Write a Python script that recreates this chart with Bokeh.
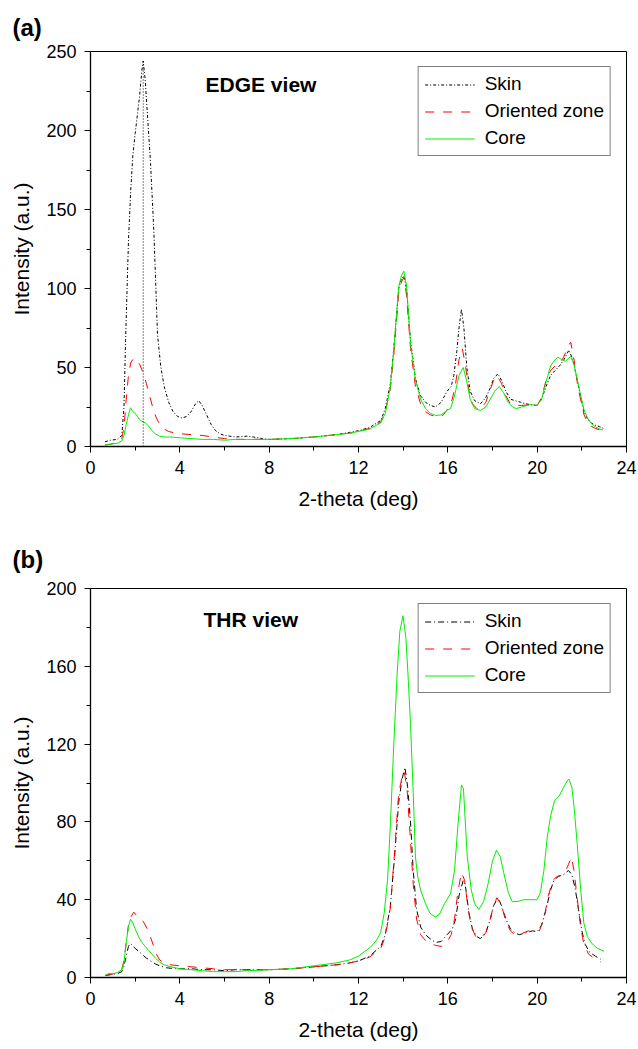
from bokeh.plotting import figure
from bokeh.models import FixedTicker, Label, Range1d
from bokeh.layouts import column
from bokeh.embed import file_html
from bokeh.resources import INLINE

FONT = "Liberation Sans"

# ---------------- data: panel (a) EDGE view ----------------
A_SKIN_X = [0.65, 0.9, 1.2, 1.4, 1.5, 1.57, 1.7, 1.8, 1.9, 2.0, 2.1, 2.2, 2.3, 2.36, 2.45, 2.55, 2.69, 2.84,
            3.0, 3.15, 3.3, 3.5, 3.7, 3.9, 4.1, 4.3, 4.5, 4.7, 4.85, 5.0, 5.2, 5.4, 5.6, 5.8, 6.0, 6.5, 7.0,
            7.3, 7.7, 8.0, 9.0, 10.0, 11.0, 11.64, 12.0, 12.5, 13.0, 13.2, 13.43, 13.58, 13.8, 13.92, 14.03,
            14.15, 14.33, 14.55, 14.78, 15.0, 15.22, 15.45, 15.7, 15.97, 16.15, 16.27, 16.4, 16.5, 16.61,
            16.72, 16.85, 17.0, 17.2, 17.46, 17.7, 17.9, 18.05, 18.24, 18.4, 18.6, 18.8, 19.0, 19.26, 19.5,
            19.7, 20.0, 20.2, 20.4, 20.6, 20.8, 21.0, 21.2, 21.42, 21.6, 21.75, 21.94, 22.1, 22.24, 22.4,
            22.6, 22.8, 23.05]
A_SKIN_Y = [3, 4, 4.5, 7, 25, 67, 130, 162, 185, 198, 210, 222, 238, 244, 232, 210, 179, 135,
            71, 50, 38, 28, 22, 19, 18, 19, 22, 27, 29, 26, 20, 14, 10, 8, 7, 6, 6.5,
            6, 5, 4.5, 5, 6, 7.5, 9, 10, 12, 16.5, 24, 40, 62, 100, 106, 108,
            100, 67, 43, 32, 28, 26, 25, 28, 35, 38, 45, 60, 75, 87,
            75, 50, 35, 29, 27, 31, 37, 43, 46, 42, 35, 30, 29, 28, 27,
            26.5, 26, 30, 38, 45, 48, 51, 55, 61, 55, 45, 32, 22, 18, 15,
            13.5, 12.5, 11]

A_OZ_X = [0.65, 0.9, 1.2, 1.4, 1.5, 1.6, 1.7, 1.8, 1.94, 2.05, 2.2, 2.35, 2.5, 2.65, 2.8, 2.95, 3.1, 3.3,
          3.5, 3.8, 4.1, 4.5, 5.0, 5.5, 6.0, 6.5, 7.0, 8.0, 9.0, 10.0, 11.0, 11.64, 12.0, 12.5, 13.0,
          13.2, 13.43, 13.58, 13.8, 13.92, 14.03, 14.15, 14.33, 14.55, 14.78, 15.0, 15.22, 15.45, 15.6,
          15.8, 16.0, 16.2, 16.35, 16.5, 16.65, 16.8, 16.95, 17.1, 17.3, 17.46, 17.7, 17.9, 18.05, 18.2,
          18.4, 18.6, 18.8, 19.0, 19.3, 19.7, 20.0, 20.2, 20.4, 20.6, 20.8, 21.0, 21.2, 21.4, 21.5, 21.65,
          21.8, 21.94, 22.1, 22.24, 22.4, 22.6, 22.8, 23.0]
A_OZ_Y = [1, 1.5, 2.5, 5, 12, 30, 45, 53, 56, 55, 52, 47, 40, 32, 24, 18, 14, 11,
          9.5, 8.5, 8, 7.5, 7, 6, 5, 4.5, 4.5, 4.5, 5, 6, 7.5, 8.5, 9.5, 11.5, 15.5,
          22, 37, 58, 97, 104, 107, 96, 62, 38, 27, 22, 20, 19, 18.5,
          20, 24, 30, 40, 55, 62, 50, 35, 27, 24, 23.5, 28, 36, 42, 45,
          40, 32, 27, 26, 26, 26.5, 26, 31, 42, 48, 51, 52, 57, 64, 66, 55,
          40, 30, 20, 16, 13, 11.5, 10.5, 10]

A_CORE_X = [0.65, 0.9, 1.2, 1.4, 1.5, 1.6, 1.7, 1.79, 1.9, 2.0, 2.1, 2.2, 2.3, 2.45, 2.6, 2.75, 2.9, 3.1,
            3.3, 3.6, 4.0, 4.5, 5.0, 5.5, 6.0, 6.5, 7.0, 8.0, 9.0, 10.0, 11.0, 11.64, 12.0, 12.5, 13.0,
            13.2, 13.43, 13.58, 13.8, 13.92, 14.03, 14.15, 14.33, 14.55, 14.78, 15.0, 15.22, 15.45, 15.7,
            15.97, 16.12, 16.3, 16.5, 16.69, 16.85, 17.0, 17.2, 17.46, 17.7, 17.9, 18.1, 18.3, 18.5, 18.7,
            18.9, 19.06, 19.3, 19.7, 20.0, 20.2, 20.4, 20.6, 20.75, 20.93, 21.1, 21.27, 21.5, 21.65, 21.8,
            21.94, 22.1, 22.24, 22.4, 22.6, 22.8, 22.95]
A_CORE_Y = [1, 1.5, 2, 3.5, 7, 14, 20, 24.5, 22, 21, 19, 17, 16, 15, 13, 10, 8, 6.5,
            6, 6, 5.5, 5, 4.5, 4.5, 4, 4.5, 4.5, 4.5, 5, 6, 7.5, 8.5, 9.5, 11, 15,
            21, 38, 61, 101, 108, 111, 102, 65, 42, 30, 24, 21, 19.6, 20,
            23, 24, 32, 45, 50, 41, 30, 24, 22.8, 25, 30, 35, 38, 34, 28,
            25, 24, 25, 26.5, 26, 30, 41, 51, 54, 56.5, 55, 54, 57, 52, 42,
            33, 23, 18.5, 15, 12.5, 11, 10.5]

A_DROP_X = 2.36     # dotted drop line at skin peak
A_DROP_TOP = 244

# ---------------- data: panel (b) THR view ----------------
B_SKIN_X = [0.65, 0.9, 1.2, 1.4, 1.5, 1.6, 1.7, 1.79, 1.9, 2.0, 2.15, 2.3, 2.5, 2.7, 2.9, 3.1, 3.4, 3.8,
            4.5, 5.0, 5.5, 6.0, 6.5, 7.0, 8.0, 9.0, 10.0, 11.0, 11.6, 12.0, 12.5, 13.0, 13.2, 13.43, 13.6,
            13.8, 13.95, 14.08, 14.2, 14.33, 14.45, 14.6, 14.78, 15.0, 15.2, 15.45, 15.7, 15.97, 16.2, 16.35,
            16.5, 16.69, 16.8, 16.95, 17.1, 17.3, 17.46, 17.7, 17.9, 18.05, 18.25, 18.4, 18.6, 18.8, 19.0,
            19.2, 19.5, 19.8, 20.0, 20.2, 20.4, 20.6, 20.75, 20.95, 21.2, 21.4, 21.55, 21.7, 21.85, 22.0,
            22.15, 22.35, 22.6, 22.84]
B_SKIN_Y = [1, 1.5, 2, 3, 6, 11, 16, 17.6, 16, 15, 13.5, 12, 10, 8.5, 7, 6, 5, 4.5,
            4.5, 4, 4, 3.5, 4, 4, 4, 4.5, 5.5, 6.5, 7.5, 8.5, 11, 16, 22, 37, 60,
            90, 102, 108, 98, 80, 55, 35, 26, 22, 20, 18, 18.5, 22, 25, 30,
            42, 50, 46, 33, 25, 21, 20, 23, 30, 37, 41, 37, 30, 25, 23,
            22, 23, 24, 23.5, 27, 35, 45, 50, 52, 53, 55, 53, 46, 35, 24,
            17, 13, 11, 9.5]

B_OZ_X = [0.65, 0.9, 1.2, 1.4, 1.5, 1.6, 1.7, 1.8, 1.94, 2.05, 2.2, 2.35, 2.5, 2.65, 2.8, 2.95, 3.1, 3.3,
          3.6, 4.0, 4.5, 5.0, 5.5, 6.0, 6.5, 7.0, 8.0, 9.0, 10.0, 11.0, 11.6, 12.0, 12.5, 13.0, 13.2,
          13.43, 13.6, 13.8, 13.95, 14.05, 14.18, 14.3, 14.45, 14.6, 14.78, 15.0, 15.2, 15.45, 15.7, 15.95,
          16.15, 16.3, 16.45, 16.61, 16.75, 16.9, 17.05, 17.25, 17.46, 17.7, 17.9, 18.05, 18.2, 18.4, 18.6,
          18.8, 19.0, 19.3, 19.6, 19.9, 20.1, 20.3, 20.5, 20.7, 20.9, 21.2, 21.4, 21.53, 21.65, 21.8,
          21.95, 22.09, 22.3, 22.6, 22.85]
B_OZ_Y = [1, 1.5, 2.5, 4, 9, 18, 27, 31, 33.6, 32, 30, 29, 26, 22, 17, 12, 9, 7.5,
          6.5, 6, 5.5, 5, 4.5, 4, 4, 4, 4, 4.5, 5.5, 6.5, 7.5, 8.5, 10.5, 15, 21,
          36, 62, 95, 103, 106, 96, 75, 48, 30, 22, 19, 17.5, 16.5, 16, 18,
          22, 30, 44, 54, 50, 36, 26, 21, 20, 23, 30, 37, 41, 37, 29,
          24, 22, 22.5, 24, 23, 24, 30, 42, 50, 52, 53, 58, 62, 55, 40,
          26, 17, 12, 9.5, 8]

B_CORE_X = [0.65, 0.8, 1.0, 1.2, 1.4, 1.5, 1.6, 1.7, 1.79, 1.9, 2.0, 2.15, 2.3, 2.45, 2.6, 2.75, 2.9, 3.1,
            3.3, 3.6, 4.0, 4.5, 5.0, 5.5, 6.0, 6.5, 7.0, 8.0, 9.0, 10.0, 11.0, 11.6, 12.0, 12.54, 12.8,
            12.99, 13.15, 13.3, 13.43, 13.58, 13.73, 13.85, 13.99, 14.12, 14.22, 14.33, 14.45, 14.55, 14.65,
            14.78, 15.0, 15.2, 15.45, 15.65, 15.85, 16.12, 16.3, 16.45, 16.61, 16.7, 16.87, 17.05, 17.2,
            17.39, 17.6, 17.8, 18.0, 18.18, 18.35, 18.5, 18.7, 18.88, 19.1, 19.4, 19.7, 20.0, 20.15, 20.3,
            20.45, 20.6, 20.78, 20.97, 21.15, 21.34, 21.42, 21.55, 21.65, 21.79, 21.95, 22.09, 22.25, 22.45,
            22.7, 22.99]
B_CORE_Y = [1, 2, 2, 2.5, 4, 8, 18, 26, 30, 28, 25, 21, 18, 16, 14, 12, 10, 8,
            6.5, 5.5, 4.5, 4, 3.5, 3, 3, 3, 3.5, 4, 4.5, 6, 7.5, 9, 11, 15.6, 19,
            23, 33, 50, 79, 120, 156, 178, 186, 175, 155, 130, 95, 62, 52,
            45, 38, 33, 31, 33, 38, 43, 55, 78, 99, 97, 62, 45, 38,
            35, 39, 48, 60, 65.5, 62, 54, 44, 39, 39, 40, 40, 40, 44, 55,
            72, 83, 91, 93, 97, 101, 102, 98, 88, 69, 45, 28, 21, 17.5,
            15, 13.5]

X_TICKS = [0, 4, 8, 12, 16, 20, 24]
X_MINOR = [2, 6, 10, 14, 18, 22]
A_Y_TICKS = [0, 50, 100, 150, 200, 250]
A_Y_MINOR = [25, 75, 125, 175, 225]
B_Y_TICKS = [0, 40, 80, 120, 160, 200]
B_Y_MINOR = [20, 60, 100, 140, 180]

SERIES_NAMES = ["Skin", "Oriented zone", "Core"]
COLORS = ["black", "#ff0000", "#00ee00"]


def make_panel(tag, title_standoff, view, view_pos, ymax, yticks, yminor, series, skin_dash,
               height, top, bottom):
    p = figure(width=638, height=height, output_backend="svg", toolbar_location=None,
               x_range=Range1d(0, 24), y_range=Range1d(0, ymax),
               min_border_left=90, min_border_right=12, min_border_top=top, min_border_bottom=bottom)
    p.title.text = tag
    p.title.text_font = FONT
    p.title.text_font_size = "24px"
    p.title.text_font_style = "bold"
    p.title.align = "left"
    p.title.offset = -78
    p.title.standoff = title_standoff
    p.title.text_color = "black"

    p.xgrid.visible = False
    p.ygrid.visible = False
    p.outline_line_color = "black"
    p.outline_line_width = 1
    p.outline_line_alpha = 1

    p.xaxis.ticker = FixedTicker(ticks=X_TICKS, minor_ticks=X_MINOR)
    p.yaxis.ticker = FixedTicker(ticks=yticks, minor_ticks=yminor)
    for ax in (p.xaxis[0], p.yaxis[0]):
        ax.axis_line_color = "black"
        ax.axis_line_width = 1.3
        ax.major_tick_line_color = "black"
        ax.minor_tick_line_color = "black"
        ax.major_tick_in = 0
        ax.major_tick_out = 6
        ax.minor_tick_in = 0
        ax.minor_tick_out = 4
        ax.major_label_text_font = FONT
        ax.major_label_text_font_size = "18px"
        ax.major_label_text_color = "black"
        ax.axis_label_text_font = FONT
        ax.axis_label_text_font_size = "21px"
        ax.axis_label_text_font_style = "normal"
        ax.axis_label_text_color = "black"
        ax.major_label_standoff = 8
        ax.axis_label_standoff = 10
    p.xaxis.axis_label = "2-theta (deg)"
    p.yaxis.axis_label = "Intensity (a.u.)"

    dashes = [skin_dash, "9 9", "solid"]
    for (xs, ys), name, col, dash in zip(series, SERIES_NAMES, COLORS, dashes):
        p.line(xs, ys, line_color=col, line_width=1, line_dash=dash, legend_label=name)

    lg = p.legend[0]
    lg.location = "top_right"
    lg.margin = 15
    lg.padding = 6
    lg.spacing = 5
    lg.glyph_width = 50
    lg.glyph_height = 21
    lg.label_height = 21
    lg.label_standoff = 10
    lg.label_text_font = FONT
    lg.label_text_font_size = "19px"
    lg.label_text_color = "black"
    lg.border_line_color = "black"
    lg.border_line_width = 1.3
    lg.background_fill_alpha = 1

    p.add_layout(Label(x=view_pos[0], y=view_pos[1], text=view, text_font=FONT,
                       text_font_size="21px", text_font_style="bold", text_color="black",
                       text_baseline="alphabetic"))
    return p


pa = make_panel("(a)", 22, "EDGE view", (5.15, 229), 250, A_Y_TICKS, A_Y_MINOR,
                [(A_SKIN_X, A_SKIN_Y), (A_OZ_X, A_OZ_Y), (A_CORE_X, A_CORE_Y)],
                "3 2 1 2", 518, 51, 72)
pa.segment(x0=[A_DROP_X], y0=[0], x1=[A_DROP_X], y1=[A_DROP_TOP],
           line_color="black", line_width=1, line_dash="1 2")

pb = make_panel("(b)", 32, "THR view", (5.06, 184), 200, B_Y_TICKS, B_Y_MINOR,
                [(B_SKIN_X, B_SKIN_Y), (B_OZ_X, B_OZ_Y), (B_CORE_X, B_CORE_Y)],
                "6 3 1 3", 529, 70, 70)

layout = column(pa, pb, spacing=0)
open("out.html", "w").write(file_html(layout, INLINE))
